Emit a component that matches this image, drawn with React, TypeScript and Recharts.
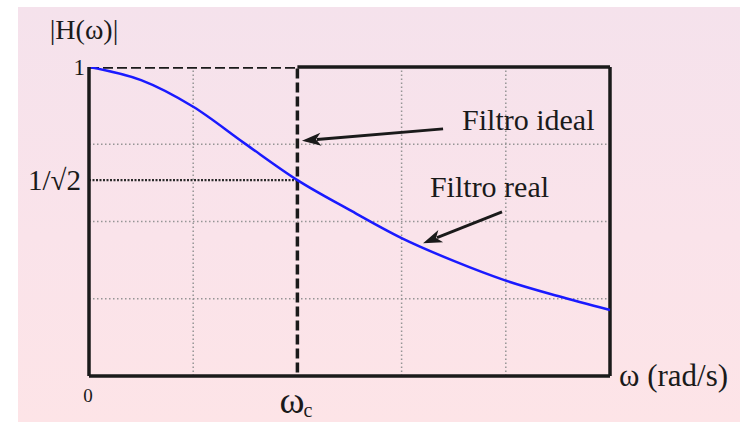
import React from 'react';
import { ComposedChart, Line, XAxis, YAxis, ReferenceLine, ReferenceDot } from 'recharts';

// frequency normalised to the cutoff (ω / ωc)
const omega = [0, 0.25, 0.5, 0.75, 1, 1.25, 1.5, 1.75, 2, 2.25, 2.5];
// |H(ω)| of the real filter
const magnitude = [1, 0.966, 0.897, 0.801, 0.7071, 0.63, 0.557, 0.498, 0.447, 0.407, 0.371];

// ideal brick-wall filter
const idealOmega = [0, 1, 1];
const idealGain = [1, 1, 0];

const cutoff = 1;
const halfPower = 0.7071;

const gridX = [0.5, 1.5, 2];
const gridY = [0.4, 0.6, 0.8];
const yTicks = [halfPower, 1];
const yTickLabels = ['1/√2', '1'];
const xTicks = [0, cutoff];

// arrows: [fromW, fromH, toW, toH]
const arrows = [
  [1.699, 0.84, 1.022, 0.809],
  [1.982, 0.625, 1.603, 0.544],
];
const notes = [
  { w: 1.79, h: 0.838, text: 'Filtro ideal' },
  { w: 1.636, h: 0.664, text: 'Filtro real' },
];

const data = omega.map((w, i) => ({ w, h: magnitude[i] }));
const idealData = idealOmega.map((w, i) => ({ w, h: idealGain[i] }));

const FONT = '"Liberation Serif", "Times New Roman", serif';
const INK = '#1a1a1a';

const YTick = (props: any) => {
  const { x, y, payload } = props;
  const idx = yTicks.indexOf(payload.value);
  const top = payload.value === 1;
  return (
    <text
      x={top ? x + 4 : x}
      y={top ? y + 8 : y + 10}
      textAnchor="end"
      fontFamily={FONT}
      fontSize={top ? 23 : 29}
      fill={INK}
    >
      {yTickLabels[idx]}
    </text>
  );
};

const XTick = (props: any) => {
  const { x, y, payload } = props;
  if (payload.value === 0) {
    return (
      <text x={x - 1} y={y + 18} textAnchor="middle" fontFamily={FONT} fontSize={19} fill={INK}>
        0
      </text>
    );
  }
  return (
    <g>
      <text x={x - 18} y={y + 29} fontFamily={FONT} fontSize={38} fill={INK}>
        ω
      </text>
      <text x={x + 6} y={y + 33} fontFamily={FONT} fontSize={20} fill={INK}>
        c
      </text>
    </g>
  );
};

const Arrow = (props: any) => {
  const { x1, y1, x2, y2 } = props;
  const a = Math.atan2(y2 - y1, x2 - x1);
  const len = 19;
  const half = 6.5;
  const bx = x2 - len * Math.cos(a);
  const by = y2 - len * Math.sin(a);
  const px = -Math.sin(a) * half;
  const py = Math.cos(a) * half;
  return (
    <g>
      <line x1={x1} y1={y1} x2={bx + 4 * Math.cos(a)} y2={by + 4 * Math.sin(a)} stroke={INK} strokeWidth={2.8} />
      <polygon
        points={`${x2},${y2} ${bx + px},${by + py} ${bx + 5 * Math.cos(a)},${by + 5 * Math.sin(a)} ${bx - px},${by - py}`}
        fill={INK}
      />
    </g>
  );
};

export default function App() {
  return (
    <div style={{ position: 'absolute', left: 0, top: 0, width: 740, height: 422, background: '#fff' }}>
      <div
        style={{
          position: 'absolute',
          left: 18,
          top: 7,
          right: 0,
          bottom: 0,
          background: 'linear-gradient(180deg, #f5e2ec 0%, #fae3ea 55%, #fde4e7 100%)',
        }}
      />
      <ComposedChart
        width={740}
        height={422}
        data={data}
        margin={{ top: 67, right: 130, bottom: 0, left: 0 }}
        style={{ position: 'absolute', left: 0, top: 0 }}
      >
        <XAxis
          dataKey="w"
          type="number"
          domain={[0, 2.5]}
          ticks={xTicks}
          tick={<XTick />}
          tickLine={false}
          height={46}
          axisLine={{ stroke: INK, strokeWidth: 3.5 }}
          label={(p: any) => (
            <text
              x={p.viewBox.x + p.viewBox.width + 9}
              y={p.viewBox.y + 10}
              fontFamily={FONT}
              fontSize={31}
              fill={INK}
            >
              ω (rad/s)
            </text>
          )}
        />
        <YAxis
          type="number"
          domain={[0.2, 1]}
          allowDataOverflow
          ticks={yTicks}
          tick={<YTick />}
          tickLine={false}
          width={89}
          axisLine={{ stroke: INK, strokeWidth: 3.5 }}
          label={(p: any) => (
            <text x={84} y={p.viewBox.y - 28} textAnchor="middle" fontFamily={FONT} fontSize={28} fill={INK}>
              |H(ω)|
            </text>
          )}
        />

        {gridX.map((g) => (
          <ReferenceLine key={`gx${g}`} x={g} stroke="#959595" strokeWidth={1.5} strokeDasharray="1.5 2.5" />
        ))}
        {gridY.map((g) => (
          <ReferenceLine key={`gy${g}`} y={g} stroke="#959595" strokeWidth={1.5} strokeDasharray="1.5 2.5" />
        ))}

        <ReferenceLine
          segment={[{ x: 0, y: halfPower }, { x: cutoff, y: halfPower }]}
          stroke="#2a2a2a"
          strokeWidth={2.2}
          strokeDasharray="2 1.5"
        />

        {/* frame: right side and top right of the cutoff */}
        <ReferenceLine x={2.5} stroke={INK} strokeWidth={3.5} />
        <ReferenceLine segment={[{ x: cutoff, y: 1 }, { x: 2.5, y: 1 }]} stroke={INK} strokeWidth={3.5} />

        <Line
          data={idealData}
          dataKey="h"
          type="linear"
          stroke={INK}
          strokeWidth={3.5}
          strokeDasharray="10 4"
          dot={false}
          isAnimationActive={false}
        />
        <Line dataKey="h" type="monotone" stroke="#1a1aff" strokeWidth={2.5} dot={false} isAnimationActive={false} />

        {arrows.map((a, i) => (
          <ReferenceLine
            key={`ar${i}`}
            segment={[{ x: a[0], y: a[1] }, { x: a[2], y: a[3] }]}
            shape={<Arrow />}
          />
        ))}
        {notes.map((n) => (
          <ReferenceDot
            key={n.text}
            x={n.w}
            y={n.h}
            r={0}
            shape={(p: any) => (
              <text x={p.cx} y={p.cy} fontFamily={FONT} fontSize={30} fill={INK}>
                {n.text}
              </text>
            )}
          />
        ))}
      </ComposedChart>
    </div>
  );
}
